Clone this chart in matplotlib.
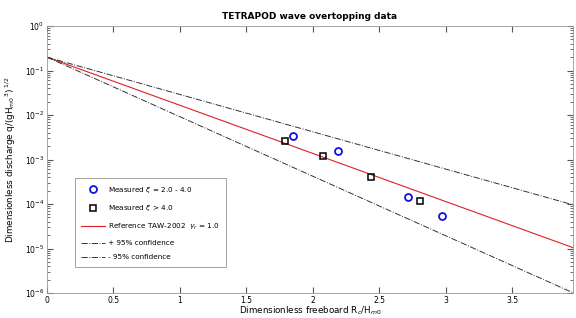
import numpy as np
import matplotlib
matplotlib.use("Agg")
import matplotlib.pyplot as plt
from matplotlib.ticker import LogLocator, FuncFormatter, NullFormatter

# measured points
xi_mid_x = [1.855, 2.19, 2.716, 2.974]
xi_mid_q = [3.37e-3, 1.55e-3, 1.46e-4, 5.4e-5]
xi_high_x = [1.795, 2.08, 2.44, 2.81]
xi_high_q = [2.64e-3, 1.18e-3, 4.04e-4, 1.17e-4]

# reference q = a*exp(-b*Rc/Hm0)
q0 = 0.2
b_ref = 2.49
b_plus = 1.93
b_minus = 3.08

x_max = 3.96
xtick_vals = [0, 0.5, 1, 1.5, 2, 2.5, 3, 3.5]

plt.rcParams['font.family'] = 'DejaVu Sans'
plt.rcParams['mathtext.fontset'] = 'dejavusans'

fig = plt.figure(figsize=(5.76, 3.18), dpi=100)
ax = fig.add_axes([0.0816, 0.0786, 0.9134, 0.8394])

xx = np.linspace(0, x_max, 200)
ax.plot(xi_mid_x, xi_mid_q, 'o', mfc='none', mec='#1010e0', mew=1.3, ms=5,
        label=r'Measured $\xi$ = 2.0 - 4.0', zorder=5)
ax.plot(xi_high_x, xi_high_q, 's', mfc='none', mec='black', mew=1.1, ms=4,
        label=r'Measured $\xi$ > 4.0', zorder=5)
ax.plot(xx, q0 * np.exp(-b_ref * xx), color='#e02020', lw=0.8,
        label=r'Reference TAW-2002  $\gamma_r$ = 1.0')
ax.plot(xx, q0 * np.exp(-b_plus * xx), color='#333333', lw=0.7, ls='-.',
        label='+ 95% confidence')
ax.plot(xx, q0 * np.exp(-b_minus * xx), color='#333333', lw=0.7, ls='-.',
        label='- 95% confidence')

ax.set_yscale('log')
ax.set_ylim(1e-6, 1)
ax.set_xlim(0, x_max)
ax.set_xticks(xtick_vals)
ax.xaxis.set_major_formatter(FuncFormatter(lambda v, p: f'{v:g}'))
ax.yaxis.set_major_locator(LogLocator(base=10, numticks=10))
ax.yaxis.set_minor_locator(LogLocator(base=10, subs=np.arange(2, 10), numticks=10))
ax.yaxis.set_minor_formatter(NullFormatter())
ax.tick_params(which='both', direction='in', top=True, right=True, labelsize=5.5,
               color='#555555', pad=2)
ax.tick_params(which='major', length=4)
ax.tick_params(which='minor', length=2)
for s in ax.spines.values():
    s.set_color('#999999')
    s.set_linewidth(0.6)

ax.set_title('TETRAPOD wave overtopping data', fontsize=6.5, fontweight='bold', pad=5)
ax.set_xlabel(r'Dimensionless freeboard R$_c$/H$_{m0}$', fontsize=6.3, labelpad=0)
ax.set_ylabel(r'Dimensionless discharge q/(gH$_{m0}$$^3$)$^{\ 1/2}$', fontsize=6.3, labelpad=5)

leg = ax.legend(loc='lower left', bbox_to_anchor=(0.046, 0.084), fontsize=5.2,
                frameon=True, fancybox=False, edgecolor='#777777',
                handlelength=3.3, labelspacing=1.15, borderpad=0.9, handletextpad=0.4)
leg.get_frame().set_linewidth(0.6)

fig.savefig('out.png', dpi=100)
